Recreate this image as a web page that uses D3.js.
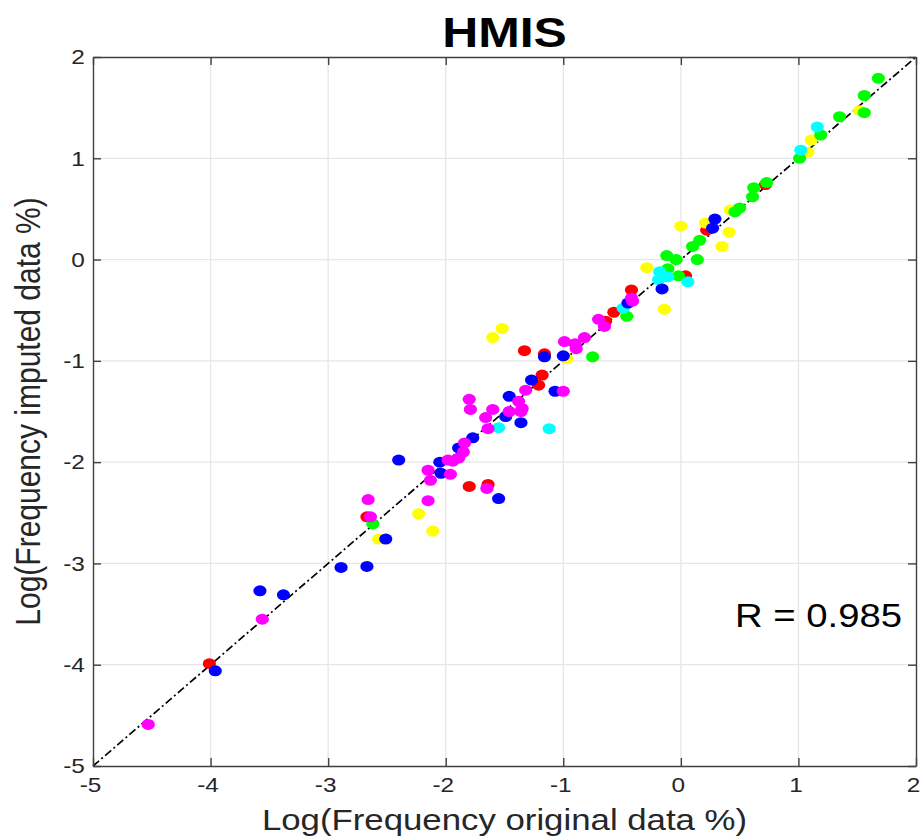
<!DOCTYPE html>
<html>
<head>
<meta charset="utf-8">
<script src="https://cdn.jsdelivr.net/npm/d3@7"></script>
<style>
  body { margin: 0; background: #fff; }
  svg text { font-family: "Liberation Sans", Arial, sans-serif; }
</style>
</head>
<body>
<svg id="chart" width="920" height="838"></svg>
<script>
// values, in log units: [original, imputed]
var redPts = [[-4.01,-3.99],[-2.67,-2.54],[-1.80,-2.24],[-1.64,-2.22],[-1.18,-1.14],[-1.21,-1.24],
  [-1.33,-0.90],[-1.16,-0.93],[-0.64,-0.61],[-0.57,-0.52],[-0.42,-0.30],[0.04,-0.16],[0.22,0.29],[0.72,0.74]];
var yellowPts = [[-2.57,-2.76],[-2.23,-2.51],[-2.11,-2.68],[-1.60,-0.77],[-1.52,-0.68],[-0.97,-0.98],
  [-0.14,-0.49],[-0.29,-0.08],[0.00,0.33],[0.21,0.36],[0.41,0.27],[0.35,0.13],[0.42,0.49],
  [1.08,1.06],[1.11,1.18],[1.52,1.47]];
var greenPts = [[-2.62,-2.61],[-0.75,-0.96],[-0.46,-0.56],[-0.11,-0.09],[-0.12,0.04],[-0.04,0.00],
  [-0.02,-0.16],[0.10,0.13],[0.16,0.19],[0.14,0.00],[0.46,0.47],[0.50,0.51],[0.61,0.62],[0.62,0.71],
  [0.73,0.76],[1.01,1.00],[1.19,1.23],[1.35,1.41],[1.56,1.45],[1.56,1.62],[1.68,1.79]];
var cyanPts = [[-1.55,-1.66],[-1.12,-1.67],[-0.49,-0.48],[-0.19,-0.20],[-0.18,-0.12],[-0.11,-0.17],
  [0.06,-0.22],[1.02,1.08],[1.16,1.31]];
var bluePts = [[-3.96,-4.06],[-3.58,-3.27],[-3.38,-3.31],[-2.89,-3.04],[-2.67,-3.03],[-2.40,-1.98],
  [-2.51,-2.76],[-2.05,-2.00],[-2.04,-2.11],[-1.89,-1.86],[-1.77,-1.76],[-1.55,-2.36],[-1.46,-1.35],
  [-1.49,-1.55],[-1.36,-1.61],[-1.27,-1.19],[-1.07,-1.30],[-1.16,-0.96],[-1.00,-0.95],[-0.45,-0.43],
  [-0.16,-0.29],[0.29,0.40],[0.27,0.31]];
var magentaPts = [[-4.53,-4.59],[-3.56,-3.55],[-2.66,-2.37],[-2.64,-2.54],[-2.15,-2.38],[-2.15,-2.08],
  [-2.13,-2.18],[-1.96,-2.12],[-1.98,-1.98],[-1.94,-1.99],[-1.84,-1.81],[-1.85,-1.90],[-1.89,-1.96],
  [-1.80,-1.38],[-1.79,-1.48],[-1.65,-2.26],[-1.60,-1.48],[-1.66,-1.56],[-1.64,-1.67],[-1.38,-1.40],
  [-1.46,-1.50],[-1.35,-1.47],[-1.36,-1.50],[-1.32,-1.29],[-1.00,-1.30],[-0.99,-0.81],[-0.90,-0.83],
  [-0.82,-0.77],[-0.89,-0.88],[-0.70,-0.59],[-0.65,-0.66],[-0.41,-0.41],[-0.42,-0.38]];

var axisTicks = [-5, -4, -3, -2, -1, 0, 1, 2];
var diagLine = [[-5, -5], [2, 2]];
var titleText = "HMIS";
var xLabel = "Log(Frequency original data %)";
var yLabel = "Log(Frequency imputed data %)";
var rText = "R = 0.985";

// draw order matters for overlaps
var series = [
  {pts: redPts, color: "#ff0000"},
  {pts: yellowPts, color: "#ffff00"},
  {pts: greenPts, color: "#00ff00"},
  {pts: cyanPts, color: "#00ffff"},
  {pts: bluePts, color: "#0000ff"},
  {pts: magentaPts, color: "#ff00ff"}
];

var stretch = 1.16; // picture is wider than tall
var plotLeft = 93, plotRight = 916, plotTop = 57, plotBottom = 766;

var svg = d3.select("#chart");
var x = d3.scaleLinear().domain([-5, 2]).range([plotLeft, plotRight]);
var y = d3.scaleLinear().domain([-5, 2]).range([plotBottom, plotTop]);

// grid
var grid = svg.append("g").attr("class", "grid");
grid.selectAll(".gx").data(axisTicks.slice(1, -1)).enter().append("line")
  .attr("x1", d => x(d)).attr("x2", d => x(d))
  .attr("y1", plotTop).attr("y2", plotBottom)
  .attr("stroke", "#e6e6e6").attr("stroke-width", 1.3);
grid.selectAll(".gy").data(axisTicks.slice(1, -1)).enter().append("line")
  .attr("y1", d => y(d)).attr("y2", d => y(d))
  .attr("x1", plotLeft).attr("x2", plotRight)
  .attr("stroke", "#e6e6e6").attr("stroke-width", 1.3);

// dash-dot identity line
svg.append("path")
  .datum(diagLine)
  .attr("d", d3.line().x(d => x(d[0])).y(d => y(d[1])))
  .attr("fill", "none").attr("stroke", "#000").attr("stroke-width", 1.7)
  .attr("stroke-dasharray", "8,3,2,3");

// points
series.forEach(function (s) {
  svg.append("g").selectAll("ellipse").data(s.pts).enter().append("ellipse")
    .attr("cx", d => x(d[0])).attr("cy", d => y(d[1]))
    .attr("rx", 6.6).attr("ry", 5.5)
    .attr("fill", s.color);
});

// axes with inward ticks on all four sides
function styleAxis(g) {
  g.selectAll("path, line").attr("stroke", "#404040").attr("stroke-width", 1.4);
  g.selectAll("text").attr("fill", "#262626").style("font-size", "21px")
    .attr("font-family", "Liberation Sans, Arial, sans-serif");
}
var plainNum = d => String(d);

svg.append("g").attr("transform", "translate(0," + plotBottom + ")")
  .call(d3.axisBottom(x).tickValues(axisTicks).tickFormat(plainNum)
    .tickSizeInner(-8).tickSizeOuter(0).tickPadding(11))
  .call(styleAxis)
  .call(g => g.selectAll("text").attr("transform", "translate(-3,0) scale(" + stretch + ",1)"));

svg.append("g").attr("transform", "translate(" + plotLeft + ",0)")
  .call(d3.axisLeft(y).tickValues(axisTicks).tickFormat(plainNum)
    .tickSizeInner(-8).tickSizeOuter(0).tickPadding(7))
  .call(styleAxis)
  .call(g => g.selectAll("text").attr("transform", "scale(" + stretch + ",1)"));

svg.append("g").attr("transform", "translate(0," + plotTop + ")")
  .call(d3.axisTop(x).tickValues(axisTicks).tickFormat("")
    .tickSizeInner(-8).tickSizeOuter(0))
  .call(styleAxis);

svg.append("g").attr("transform", "translate(" + plotRight + ",0)")
  .call(d3.axisRight(y).tickValues(axisTicks).tickFormat("")
    .tickSizeInner(-8).tickSizeOuter(0))
  .call(styleAxis);

// texts
svg.append("text")
  .attr("transform", "translate(" + (plotLeft + plotRight) / 2 + ",47) scale(" + stretch + ",1)")
  .attr("text-anchor", "middle").style("font-size", "43px").style("font-weight", "bold")
  .attr("fill", "#000").text(titleText);

svg.append("text")
  .attr("transform", "translate(" + (plotLeft + plotRight) / 2 + ",830) scale(" + stretch + ",1)")
  .attr("text-anchor", "middle").style("font-size", "30px")
  .attr("fill", "#262626").text(xLabel);

svg.append("text")
  .attr("transform", "translate(40," + (plotTop + plotBottom) / 2 + ") scale(" + stretch + ",1) rotate(-90)")
  .attr("text-anchor", "middle").style("font-size", "30px")
  .attr("fill", "#262626").text(yLabel);

svg.append("text")
  .attr("transform", "translate(902,627) scale(" + stretch + ",1)")
  .attr("text-anchor", "end").style("font-size", "33px")
  .attr("fill", "#000").text(rText);
</script>
</body>
</html>
